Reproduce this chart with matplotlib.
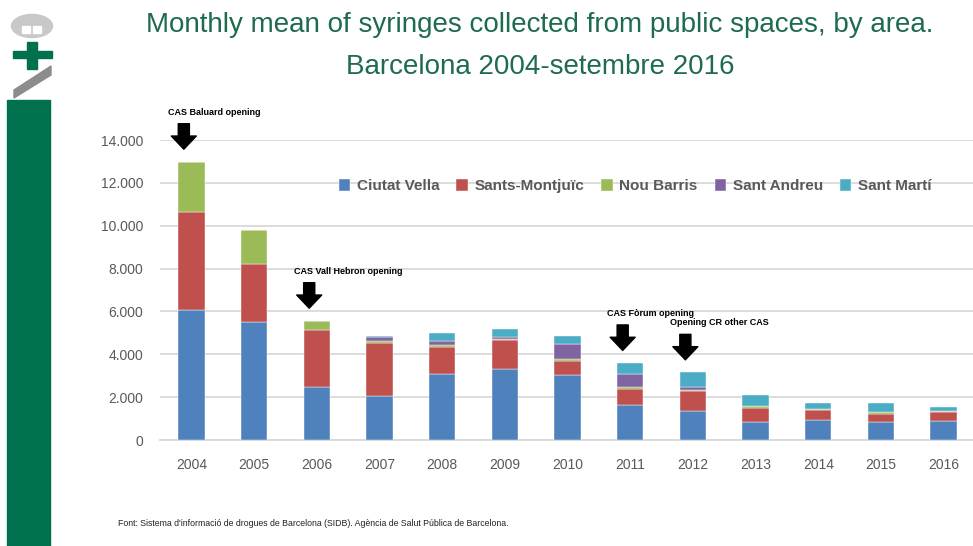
import matplotlib
matplotlib.use('Agg')
import matplotlib.pyplot as plt
from matplotlib.patches import Rectangle, Ellipse, Polygon
from matplotlib.ticker import FuncFormatter
import numpy as np

years = ['2004', '2005', '2006', '2007', '2008', '2009', '2010',
         '2011', '2012', '2013', '2014', '2015', '2016']
areas = ['Ciutat Vella', 'Sants-Montjuïc', 'Nou Barris', 'Sant Andreu', 'Sant Martí']

ciutat_vella = [6070, 5520, 2460, 2070, 3080, 3300, 3020, 1620, 1340, 840, 950, 840, 890]
sants_montjuic = [4560, 2690, 2680, 2440, 1250, 1380, 690, 750, 960, 670, 450, 390, 400]
nou_barris = [2360, 1570, 430, 110, 90, 40, 80, 110, 50, 60, 50, 60, 60]
sant_andreu = [0, 0, 0, 190, 190, 100, 710, 620, 120, 0, 0, 0, 0]
sant_marti = [0, 0, 0, 50, 400, 340, 340, 500, 690, 510, 300, 450, 170]

colors = ['#4F81BD', '#C0504D', '#9BBB59', '#8064A2', '#4BACC6']

# events marked with arrows: (year, label)
events = [('2004', 'CAS Baluard opening'),
          ('2006', 'CAS Vall Hebron opening'),
          ('2011', 'CAS Fòrum opening'),
          ('2012', 'Opening CR other CAS')]

plt.rcParams['font.family'] = ['Liberation Sans', 'DejaVu Sans']

fig = plt.figure(figsize=(9.73, 5.46), dpi=100)
W, H = 973, 546

def fpx(x, y):
    # pixel coords (from top-left) -> figure fraction
    return (x / W, 1 - y / H)

# left side brand bar + logo
fig.patches.append(Rectangle(fpx(7, 546), 43 / W, 446 / H, transform=fig.transFigure,
                             color='#00704F', zorder=0))
fig.patches.append(Ellipse(fpx(32, 26), 41 / W, 23 / H, transform=fig.transFigure,
                           color='#C8C8C8', zorder=1))
fig.patches.append(Rectangle(fpx(22, 33), 8 / W, 7 / H, transform=fig.transFigure,
                             color='white', zorder=2))
fig.patches.append(Rectangle(fpx(33, 33), 8 / W, 7 / H, transform=fig.transFigure,
                             color='white', zorder=2))
fig.patches.append(Rectangle(fpx(13, 58), 39 / W, 7 / H, transform=fig.transFigure,
                             color='#00704F', zorder=1))
fig.patches.append(Rectangle(fpx(27, 69), 10 / W, 27 / H, transform=fig.transFigure,
                             color='#00704F', zorder=1))
fig.patches.append(Polygon([fpx(14, 90), fpx(14, 98), fpx(51, 75), fpx(51, 66)],
                           transform=fig.transFigure, color='#8C8C8C', zorder=1))

fig.text(540 / W, 1 - 25 / H, 'Monthly mean of syringes collected from public spaces, by area.',
         ha='center', va='center', fontsize=20, color='#1E6B4E')
fig.text(540 / W, 1 - 67 / H, 'Barcelona 2004-setembre 2016',
         ha='center', va='center', fontsize=20, color='#1E6B4E')

ax = fig.add_axes([160 / W, 1 - 440 / H, 815 / W, 300 / H])

x = np.arange(len(years))
series = [ciutat_vella, sants_montjuic, nou_barris, sant_andreu, sant_marti]
bottom = np.zeros(len(years))
for name, vals, c in zip(areas, series, colors):
    ax.bar(x, vals, 0.42, bottom=bottom, color=c, label=name, zorder=3,
           edgecolor='white', linewidth=0.3)
    bottom += np.array(vals)

ax.set_xlim(-0.5, len(years) - 0.5)
ax.set_ylim(0, 14000)
ax.set_yticks(np.arange(0, 14001, 2000))
ax.yaxis.set_major_formatter(FuncFormatter(lambda v, p: f'{int(v):,}'.replace(',', '.')))
ax.set_xticks(x)
ax.set_xticklabels(years)
ax.tick_params(axis='both', length=0, labelsize=10, colors='#595959')
ax.tick_params(axis='y', pad=12)
ax.tick_params(axis='x', pad=13)
ax.grid(axis='y', color='#D9D9D9', linewidth=1.3, zorder=0)
for s in ['top', 'right', 'left']:
    ax.spines[s].set_visible(False)
ax.spines['bottom'].set_color('#D9D9D9')
ax.spines['bottom'].set_linewidth(1.3)

leg = ax.legend(loc='upper center', bbox_to_anchor=(0.583, 0.915), ncol=5, frameon=False,
                handlelength=0.75, handleheight=0.75, handletextpad=0.45, columnspacing=1.1,
                prop={'weight': 'bold', 'size': 11})
for t in leg.get_texts():
    t.set_color('#595959')

totals = bottom
for year, label in events:
    i = years.index(year)
    tip = totals[i] + 450
    ax.annotate('', xy=(i - 0.12, tip), xytext=(i - 0.12, tip + 1450),
                arrowprops=dict(arrowstyle='simple,head_length=0.95,head_width=1.8,tail_width=0.8',
                                color='black'), annotation_clip=False)
    ax.text(i - 0.37, tip + 1650, label, fontsize=6.5, fontweight='bold',
            ha='left', va='bottom', clip_on=False)

fig.text(118 / W, 1 - 523 / H,
         "Font: Sistema d'informació de drogues de Barcelona (SIDB). Agència de Salut Pública de Barcelona.",
         fontsize=6.3, ha='left', va='center', color='#222222',
         family=['Liberation Sans Narrow', 'Liberation Sans', 'DejaVu Sans'])

fig.savefig('out.png', dpi=100)
